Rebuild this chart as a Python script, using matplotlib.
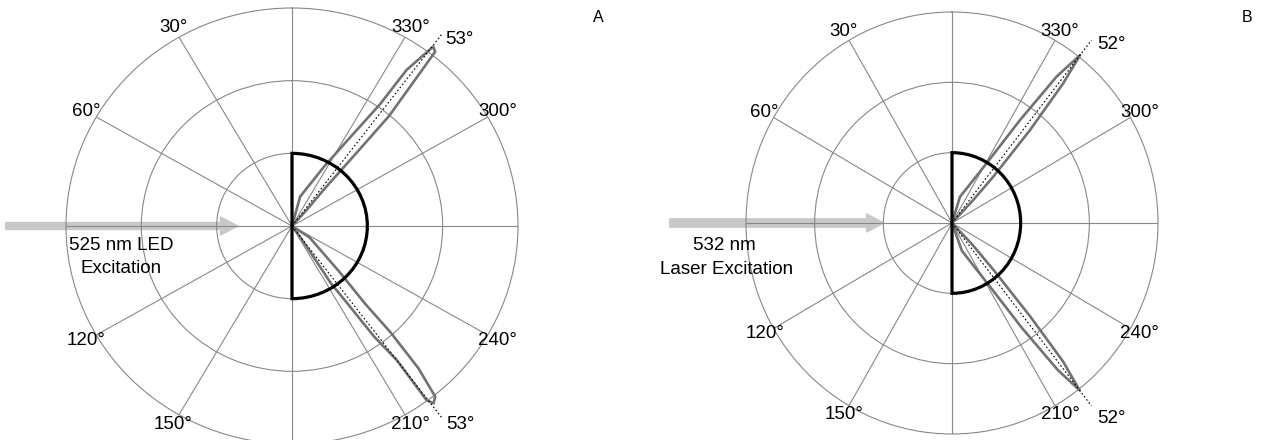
import numpy as np
import matplotlib.pyplot as plt

plt.rcParams['font.family'] = ['Liberation Sans', 'DejaVu Sans']

# polar grid
grid_angles = np.arange(0, 360, 30)
angle_ticks = [30, 60, 120, 150, 210, 240, 300, 330]
angle_labels = ["30°", "60°", "120°", "150°", "210°", "240°", "300°", "330°"]
ring_levels = [1, 2]
r_max = 3
sample_radius = 1.0

# A: 525 nm LED excitation, emission lobes (theta in deg, 0 = up, ccw)
led_peak = 53
led_up_theta = [315, 318.5, 319.9, 319.6, 319.6, 321.6, 322.8, 324.7, 325.1, 328.0, 332.5, 345.0, 345]
led_up_r = [0, 0.29, 0.65, 1.32, 1.99, 3.06, 3.10, 2.63, 2.05, 1.39, 0.92, 0.42, 0]
led_lo_theta = [236.0, 236.0, 225.0, 222.2, 221.8, 220.6, 219.0, 217.6, 216.7, 217.0, 215.6, 214.6, 213.2, 213.9, 215.5, 215.5]
led_lo_r = [0, 0.28, 0.88, 1.45, 1.96, 2.58, 3.02, 3.08, 2.99, 2.31, 1.87, 1.29, 0.94, 0.51, 0.18, 0]

# B: 532 nm laser excitation
laser_peak = 52
laser_up_theta = [316, 316.6, 317.6, 319.3, 320.8, 322.0, 323.8, 325.9, 329.3, 342.7, 342.7]
laser_up_r = [0, 0.45, 0.89, 1.74, 2.56, 3.03, 2.58, 1.77, 0.99, 0.39, 0]
laser_lo_theta = [224.0, 224.0, 222.2, 220.6, 219.4, 218.0, 216.4, 214.3, 211.0, 200.0, 200.0]
laser_lo_r = [0, 0.42, 0.90, 1.75, 2.55, 3.02, 2.60, 1.80, 1.00, 0.42, 0]

GRID = '#888888'
LOBE = '#727272'
ARROW = '#c8c8c8'


def setup_axes(ax):
    ax.set_aspect('auto')
    ax.set_theta_zero_location('N')
    ax.set_theta_direction(1)
    ax.set_ylim(0, r_max)
    ax.set_xticks(np.deg2rad(grid_angles))
    ax.set_xticklabels([])
    ax.set_yticks(ring_levels)
    ax.set_yticklabels([])
    ax.tick_params(length=0)
    ax.grid(True, color=GRID, lw=0.8)
    ax.spines['polar'].set_color(GRID)
    ax.spines['polar'].set_linewidth(0.8)
    for t, lab in zip(angle_ticks, angle_labels):
        ax.text(np.deg2rad(t), 3.15, lab, ha='center', va='center', fontsize=13.5, clip_on=False)


def draw_panel(ax, up_theta, up_r, lo_theta, lo_r, peak, arrow_tail, arrow_tip, tail_w, lab_pos):
    setup_axes(ax)
    # excitation arrow coming in from the left (theta = 90)
    ax.annotate('', xy=(np.pi / 2, arrow_tip), xytext=(np.pi / 2, arrow_tail),
                arrowprops=dict(arrowstyle=f'simple,head_length=1.25,head_width=1.3,tail_width={tail_w}',
                                mutation_scale=10, color=ARROW, shrinkA=0, shrinkB=0),
                annotation_clip=False, zorder=1)
    # emission lobes
    ax.plot(np.deg2rad(up_theta), up_r, color=LOBE, lw=1.9, clip_on=False, zorder=3)
    ax.plot(np.deg2rad(lo_theta), lo_r, color=LOBE, lw=1.9, clip_on=False, zorder=3)
    # peak directions
    for th in (270 + peak, 270 - peak):
        ax.plot(np.deg2rad([th, th]), [0, 3.3], color='k', lw=0.8, ls=(0, (1.5, 2)),
                clip_on=False, zorder=4)
    for th, r in lab_pos:
        ax.text(np.deg2rad(th), r, f"{peak}°", ha='left', va='center', fontsize=13.5, clip_on=False)
    # sample (hemisphere)
    ax.bar(np.deg2rad(270), sample_radius, width=np.pi, bottom=0, fill=False,
           edgecolor='black', linewidth=2.3, zorder=5)


fig = plt.figure(figsize=(12.64, 4.40), dpi=100)
axA = fig.add_axes([66 / 1264, -4 / 440, 452 / 1264, 436 / 440], projection='polar')
axB = fig.add_axes([746 / 1264, 6 / 440, 412 / 1264, 422 / 440], projection='polar')

draw_panel(axA, led_up_theta, led_up_r, led_lo_theta, led_lo_r, led_peak,
           3.80, 0.72, 0.5, [(321.6, 3.27), (216.9, 3.41)])
draw_panel(axB, laser_up_theta, laser_up_r, laser_lo_theta, laser_lo_r, laser_peak,
           4.11, 0.99, 0.6, [(320.2, 3.30), (217.3, 3.49)])

fig.text(121 / 1264, 1 - 245 / 440, "525 nm LED", ha='center', va='center', fontsize=13.5)
fig.text(121 / 1264, 1 - 268 / 440, "Excitation", ha='center', va='center', fontsize=13.5)
fig.text(724 / 1264, 1 - 245 / 440, "532 nm", ha='center', va='center', fontsize=13.5)
fig.text(727 / 1264, 1 - 269 / 440, "Laser Excitation", ha='center', va='center', fontsize=13.5)

fig.text(598 / 1264, 1 - 18 / 440, "A", ha='center', va='center', fontsize=11.5)
fig.text(1247 / 1264, 1 - 18 / 440, "B", ha='center', va='center', fontsize=11.5)

fig.savefig("out.png", dpi=100)
